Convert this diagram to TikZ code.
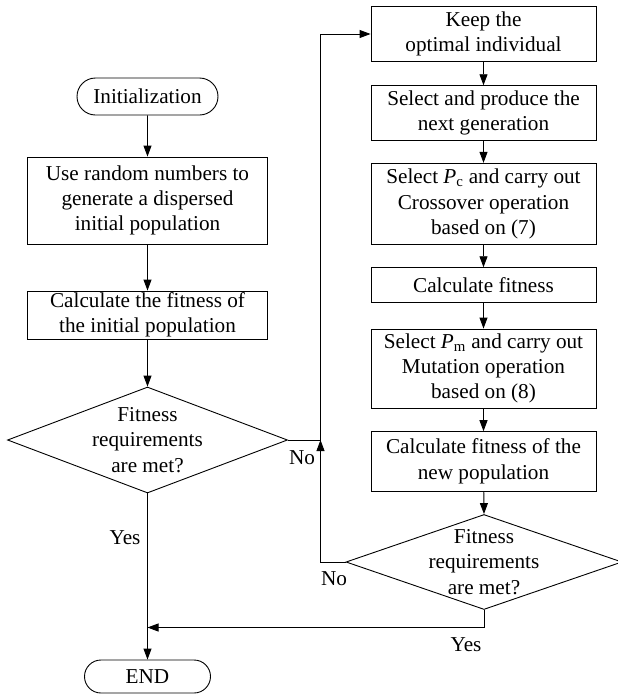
\documentclass[tikz,border=0pt]{standalone}
\usepackage{fontspec}
\setmainfont{Liberation Serif}
\usetikzlibrary{shapes.geometric,shapes.misc,arrows.meta}
\begin{document}
\begin{tikzpicture}[x=1pt,y=-1pt,
  font=\fontsize{21.2}{25.3}\selectfont,
  line width=0.9pt,
  box/.style={draw, rectangle, align=center, inner sep=0pt},
  lbox/.style={box, minimum width=240pt},
  rbox/.style={box, minimum width=225pt},
  term/.style={draw, rounded rectangle, inner sep=0pt, align=center},
  dec/.style={draw, diamond, inner sep=0pt},
  lbl/.style={inner sep=0pt},
  arr/.style={-{Triangle[length=11pt,width=8pt]}}]
\useasboundingbox (0,0) rectangle (618,694);
% left column
\node[term, minimum width=141pt, minimum height=37pt] (init) at (147.5,96.5) {Initialization};
\node[lbox, minimum height=87pt] (rand) at (147.5,200.5) {Use random numbers to\\generate a dispersed\\initial population};
\node[lbox, minimum height=48pt] (fit0) at (147.5,315) {Calculate the fitness of\\the initial population};
\node[dec, minimum width=280pt, minimum height=106pt] (d1) at (147.5,440) {};
\node[lbl, align=center] (d1t) at (d1.center) {Fitness\\requirements\\are met?};
\node[term, minimum width=126pt, minimum height=33pt] (end) at (147.5,676.5) {END};
% right column
\node[rbox, minimum height=55pt] (keep) at (483.5,34) {Keep the\\optimal individual};
\node[rbox, minimum height=55pt] (sel) at (483.5,113.2) {Select and produce the\\next generation};
\node[rbox, minimum height=81.4pt] (pc) at (483.5,204) {Select \textit{P}\textsubscript{c} and carry out\\Crossover operation\\based on (7)};
\node[rbox, minimum height=35pt] (cf) at (483.5,285.2) {Calculate fitness};
\node[rbox, minimum height=79pt] (pm) at (483.5,368.5) {Select \textit{P}\textsubscript{m} and carry out\\Mutation operation\\based on (8)};
\node[rbox, minimum height=59.3pt] (np) at (483.5,461.3) {Calculate fitness of the\\new population};
\node[dec, minimum width=276pt, minimum height=95pt] (d2) at (484,562) {};
\node[lbl, align=center] (d2t) at (d2.center) {Fitness\\requirements\\are met?};
% junction coordinates
\coordinate (j) at (320.5,440);
\coordinate (m) at (147.5,627.5);
% connectors
\draw[arr] (init) -- (rand);
\draw[arr] (rand) -- (fit0);
\draw[arr] (fit0) -- (d1.north);
\draw[arr] (d1.south) -- (end.north);
\draw (d1.east) -- (j);
\draw[arr] (d2.west) -| (j);
\draw[arr] (j) |- (keep.west);
\draw[arr] (keep) -- (sel);
\draw[arr] (sel) -- (pc);
\draw[arr] (pc) -- (cf);
\draw[arr] (cf) -- (pm);
\draw[arr] (pm) -- (np);
\draw[arr] (np) -- (d2.north);
\draw[arr] (d2.south) |- (m);
% labels
\node[lbl] (yes1) at (125,537.5) {Yes};
\node[lbl] (no1) at (302,458) {No};
\node[lbl] (no2) at (334,579) {No};
\node[lbl] (yes2) at (466,645) {Yes};
\end{tikzpicture}
\end{document}
